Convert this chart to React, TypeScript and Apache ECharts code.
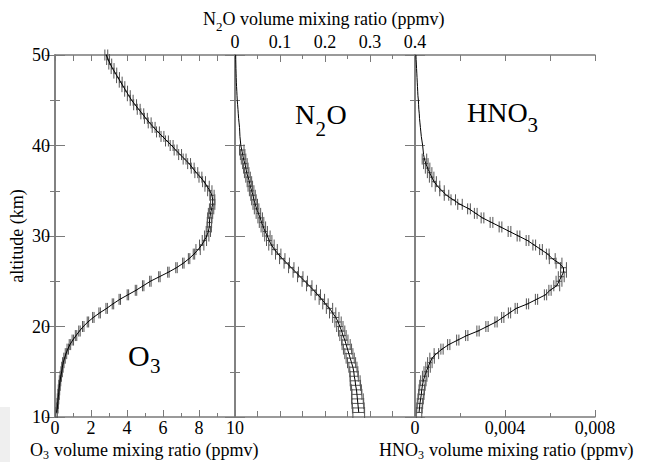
import React, { useEffect, useRef } from "react";
import * as echarts from "echarts";

const ALT = [10.5, 11, 11.5, 12, 12.5, 13, 13.5, 14, 14.5, 15, 15.5, 16, 16.5, 17, 17.5, 18, 18.5, 19, 19.5, 20,
  20.5, 21, 21.5, 22, 22.5, 23, 23.5, 24, 24.5, 25, 25.5, 26, 26.5, 27, 27.5, 28, 28.5, 29, 29.5, 30,
  30.5, 31, 31.5, 32, 32.5, 33, 33.5, 34, 34.5, 35, 35.5, 36, 36.5, 37, 37.5, 38, 38.5, 39, 39.5, 40,
  40.5, 41, 41.5, 42, 42.5, 43, 43.5, 44, 44.5, 45, 45.5, 46, 46.5, 47, 47.5, 48, 48.5, 49, 49.5, 50];

const O3 = [0.09, 0.13, 0.15, 0.17, 0.2, 0.22, 0.25, 0.28, 0.32, 0.37, 0.41, 0.46, 0.53, 0.61, 0.71, 0.83, 0.99, 1.17, 1.36, 1.57,
  1.83, 2.13, 2.48, 2.87, 3.22, 3.6, 4.05, 4.5, 4.9, 5.3, 5.8, 6.3, 6.75, 7.13, 7.45, 7.72, 7.95, 8.15, 8.3, 8.43,
  8.52, 8.57, 8.58, 8.6, 8.64, 8.7, 8.76, 8.76, 8.72, 8.6, 8.45, 8.28, 8.08, 7.85, 7.65, 7.45, 7.2, 6.95, 6.7, 6.48,
  6.22, 5.97, 5.72, 5.48, 5.26, 5.05, 4.85, 4.65, 4.45, 4.26, 4.1, 3.95, 3.8, 3.65, 3.5, 3.35, 3.2, 3.07, 2.95, 2.85];

const O3_ERR = [0.04, 0.04, 0.04, 0.04, 0.04, 0.04, 0.04, 0.04, 0.04, 0.04, 0.04, 0.04, 0.04, 0.04, 0.04, 0.04, 0.04, 0.04, 0.04, 0.04,
  0.04, 0.04, 0.04, 0.04, 0.04, 0.04, 0.04, 0.04, 0.04, 0.04, 0.04, 0.04, 0.04, 0.04, 0.04, 0.04, 0.12, 0.12, 0.12, 0.12,
  0.12, 0.12, 0.12, 0.12, 0.12, 0.12, 0.12, 0.12, 0.12, 0.12, 0.12, 0.08, 0.08, 0.08, 0.08, 0.08, 0.08, 0.08, 0.08, 0.08,
  0.08, 0.08, 0.08, 0.08, 0.08, 0.08, 0.08, 0.08, 0.08, 0.08, 0.08, 0.08, 0.08, 0.08, 0.08, 0.08, 0.08, 0.08, 0.08, 0.08];

const N2O = [0.275, 0.274, 0.273, 0.272, 0.271, 0.27, 0.268, 0.267, 0.265, 0.264, 0.262, 0.259, 0.256, 0.253, 0.25, 0.247, 0.244, 0.24, 0.237, 0.233,
  0.229, 0.224, 0.217, 0.21, 0.201, 0.193, 0.184, 0.175, 0.165, 0.155, 0.145, 0.135, 0.125, 0.115, 0.105, 0.096, 0.088, 0.081, 0.076, 0.072,
  0.067, 0.063, 0.059, 0.056, 0.052, 0.048, 0.045, 0.042, 0.04, 0.037, 0.034, 0.032, 0.029, 0.026, 0.024, 0.022, 0.019, 0.017, 0.015, 0.013,
  0.012, 0.011, 0.0105, 0.01, 0.009, 0.008, 0.0073, 0.0066, 0.0058, 0.005, 0.0045, 0.004, 0.0035, 0.003, 0.0027, 0.0024, 0.0021, 0.0019, 0.0017, 0.0015];

const N2O_ERR = [0.013, 0.013, 0.013, 0.013, 0.011, 0.011, 0.011, 0.011, 0.009, 0.009, 0.009, 0.009, 0.009, 0.009, 0.009, 0.009, 0.007, 0.007, 0.007, 0.007,
  0.007, 0.007, 0.007, 0.007, 0.006, 0.006, 0.006, 0.006, 0.006, 0.006, 0.006, 0.006, 0.006, 0.006, 0.006, 0.006, 0.006, 0.006, 0.006, 0.006,
  0.005, 0.005, 0.005, 0.005, 0.005, 0.005, 0.005, 0.005, 0.005, 0.005, 0.005, 0.005, 0.005, 0.005, 0.005, 0.005, 0.005, 0.005, 0.005, null,
  null, null, null, null, null, null, null, null, null, null, null, null, null, null, null, null, null, null, null, null];

const HNO3 = [0.00018, 0.0002, 0.00022, 0.00025, 0.00028, 0.0003, 0.00033, 0.00037, 0.00043, 0.0005, 0.00058, 0.00066, 0.00076, 0.00095, 0.0012, 0.0015, 0.0019, 0.0023, 0.0028, 0.0032,
  0.0036, 0.0039, 0.0042, 0.0045, 0.005, 0.0054, 0.0058, 0.006, 0.0063, 0.0064, 0.0065, 0.0066, 0.0066, 0.0064, 0.0061, 0.0059, 0.0056, 0.0053, 0.005, 0.0046,
  0.0042, 0.0038, 0.0034, 0.003, 0.0027, 0.0024, 0.002, 0.0017, 0.0014, 0.0012, 0.001, 0.00085, 0.00074, 0.00065, 0.00056, 0.00048, 0.00042, 0.00038, 0.00036, 0.00034,
  0.00031, 0.00028, 0.00026, 0.00024, 0.00022, 0.0002, 0.00019, 0.00017, 0.00016, 0.00015, 0.00013, 0.00012, 0.00011, 0.0001, 0.00009, 0.00008, 0.00007, 0.00006, 0.00005, 0.00004];

const HNO3_ERR = [0.00012, 0.00012, 0.00012, 0.00012, 0.00012, 0.00012, 0.00012, 0.00012, 0.0001, 0.0001, 0.0001, 0.0001, 0.0001, 0.0001, 0.00005, 0.00005, 0.00005, 0.00005, 0.00005, 0.00005,
  0.00005, 0.00005, 0.00005, 0.00005, 0.00005, 0.00005, 0.00005, 0.00005, 0.00013, 0.00013, 0.00013, 0.00013, 0.00013, 0.00013, 0.00013, 0.00006, 0.00006, 0.00006, 0.00006, 0.00006,
  0.00006, 0.00006, 0.00006, 0.00006, 0.00006, 0.00006, 0.0001, 0.0001, 0.0001, 0.0001, 0.0001, 0.0001, 0.0001, 0.0001, 0.0001, 0.0001, 0.0001, null, null, null,
  null, null, null, null, null, null, null, null, null, null, null, null, null, null, null, null, null, null, null, null];

const O3_TICKS = { min: 0, max: 10, interval: 2 };
const N2O_TICKS = { min: 0, max: 0.4, interval: 0.1 };
const HNO3_TICKS = { min: 0, max: 0.008, interval: 0.004 };
const ALT_TICKS = { min: 10, max: 50, interval: 10 };

const FONT = "'Liberation Serif', 'Times New Roman', serif";
const GRAY = "#7a7a7a";

function txt(text: string, x: number, y: number, size: number, lh: number) {
  return {
    type: "text",
    x,
    y,
    silent: true,
    style: {
      text,
      fill: "#000",
      font: `${size}px ${FONT}`,
      lineHeight: lh,
      align: "left",
      verticalAlign: "middle",
      textAlign: "left",
      textVerticalAlign: "middle",
    },
  };
}

export default function App() {
  const ref = useRef<HTMLDivElement>(null);
  useEffect(() => {
    document.body.style.margin = "0";
    const chart = echarts.init(ref.current!, undefined, { renderer: "svg" });

    const axisLine = { show: true, lineStyle: { color: GRAY, width: 1.5 } };
    const tickStyle = { color: GRAY, width: 1 };
    const lbl = { color: "#000", fontFamily: FONT, fontSize: 18 };

    const xBase = (grid: number, position: string, t: any, extra: any) => ({
      type: "value",
      gridIndex: grid,
      position,
      min: t.min,
      max: t.max,
      interval: t.interval,
      splitLine: { show: false },
      axisLine,
      axisTick: { show: true, inside: true, length: 7, lineStyle: tickStyle },
      minorTick: { show: true, splitNumber: 2, length: 4, lineStyle: tickStyle },
      axisLabel: { show: false },
      ...extra,
    });

    const yBase = (grid: number, position: string, extra: any) => ({
      type: "value",
      gridIndex: grid,
      position,
      min: ALT_TICKS.min,
      max: ALT_TICKS.max,
      interval: ALT_TICKS.interval,
      splitLine: { show: false },
      axisLine,
      axisTick: { show: true, inside: true, length: 10, lineStyle: tickStyle },
      minorTick: { show: true, splitNumber: 2, length: 5, lineStyle: tickStyle },
      axisLabel: { show: false },
      ...extra,
    });

    const lineSeries = (vals: number[], idx: number) => ({
      type: "line",
      xAxisIndex: idx * 2,
      yAxisIndex: idx * 2,
      data: ALT.map((a, i) => [vals[i], a]),
      showSymbol: false,
      symbol: "none",
      lineStyle: { color: "#000", width: 1 },
      z: 3,
    });

    const errSeries = (vals: number[], errs: (number | null)[], idx: number) => ({
      type: "custom",
      xAxisIndex: idx * 2,
      yAxisIndex: idx * 2,
      encode: { x: 0, y: 1 },
      data: ALT.map((a, i) => [vals[i], a, errs[i]]).filter((d) => d[2] != null),
      z: 2,
      renderItem: (_p: any, api: any) => {
        const x = api.value(0);
        const y = api.value(1);
        const e = api.value(2);
        const p1 = api.coord([x - e, y]);
        const p2 = api.coord([x + e, y]);
        const h = 5.5;
        const style = { stroke: "#555", lineWidth: 1, fill: null };
        return {
          type: "group",
          children: [
            { type: "line", shape: { x1: p1[0], y1: p1[1], x2: p2[0], y2: p2[1] }, style },
            { type: "line", shape: { x1: p1[0], y1: p1[1] - h, x2: p1[0], y2: p1[1] + h }, style },
            { type: "line", shape: { x1: p2[0], y1: p2[1] - h, x2: p2[0], y2: p2[1] + h }, style },
          ],
        };
      },
    });

    const gridTop = 55;
    const gridH = 362;

    chart.setOption({
      animation: false,
      backgroundColor: "#fff",
      grid: [
        { left: 55, top: gridTop, width: 180, height: gridH },
        { left: 235, top: gridTop, width: 180, height: gridH },
        { left: 415, top: gridTop, width: 180, height: gridH },
      ],
      xAxis: [
        xBase(0, "bottom", O3_TICKS, {
          axisLabel: { show: true, ...lbl, lineHeight: 12, margin: 5, showMinLabel: true, showMaxLabel: true },
        }),
        xBase(0, "top", { min: 0, max: 10, interval: 1 }, { minorTick: { show: false }, axisTick: { show: true, inside: true, length: 6, lineStyle: tickStyle } }),
        xBase(1, "top", N2O_TICKS, {
          axisLabel: { show: true, ...lbl, lineHeight: 12, margin: 7, showMinLabel: true, showMaxLabel: true },
        }),
        xBase(1, "bottom", { min: 0, max: 0.4, interval: 0.05 }, { minorTick: { show: false }, axisTick: { show: true, inside: true, length: 6, lineStyle: tickStyle } }),
        xBase(2, "bottom", HNO3_TICKS, {
          axisLabel: {
            show: true, ...lbl, lineHeight: 12, margin: 5, showMinLabel: true, showMaxLabel: true,
            formatter: (v: number) => (v === 0 ? "0" : v.toFixed(3).replace(".", ",")),
          },
        }),
        xBase(2, "top", { min: 0, max: 0.008, interval: 0.002 }, { minorTick: { show: false }, axisTick: { show: true, inside: true, length: 6, lineStyle: tickStyle } }),
      ],
      yAxis: [
        yBase(0, "left", {
          axisLabel: { show: true, ...lbl, lineHeight: 12, margin: 5, showMinLabel: true, showMaxLabel: true },
          name: "altitude (km)",
          nameLocation: "middle",
          nameGap: 29,
          nameRotate: 90,
          nameTextStyle: { ...lbl },
        }),
        yBase(0, "right", {}),
        yBase(1, "left", {}),
        yBase(1, "right", {}),
        yBase(2, "left", {}),
        yBase(2, "right", {}),
      ],
      series: [
        errSeries(O3, O3_ERR, 0),
        lineSeries(O3, 0),
        errSeries(N2O, N2O_ERR, 1),
        lineSeries(N2O, 1),
        errSeries(HNO3, HNO3_ERR, 2),
        lineSeries(HNO3, 2),
      ],
      graphic: [
        { type: "rect", left: 0, top: 407, shape: { width: 10, height: 55 }, style: { fill: "#efefef" }, z: -1 },
        // top axis title
        txt("N", 203, 19, 18, 12),
        txt("2", 216, 26.5, 13, 9),
        txt("O volume mixing ratio (ppmv)", 222.5, 19, 18, 12),
        // bottom O3 title
        txt("O", 30, 449.5, 18, 12),
        txt("3", 43, 454.5, 12, 9),
        txt(" volume mixing ratio (ppmv)", 49.5, 449.5, 18, 12),
        // bottom HNO3 title
        txt("HNO", 379, 449.5, 18, 12),
        txt("3", 418, 454.5, 12, 9),
        txt(" volume mixing ratio (ppmv)", 424.5, 449.5, 18, 12),
        // panel labels
        txt("O", 128, 355, 30, 22),
        txt("3", 150, 366, 21, 15),
        txt("N", 295, 114, 28, 20),
        txt("2", 315.5, 129, 21, 15),
        txt("O", 326.5, 114, 28, 20),
        txt("HNO", 467, 112.5, 28, 20),
        txt("3", 527.5, 125, 21, 15),
      ],
    });
    return () => chart.dispose();
  }, []);
  return <div ref={ref} style={{ width: 645, height: 462 }} />;
}
